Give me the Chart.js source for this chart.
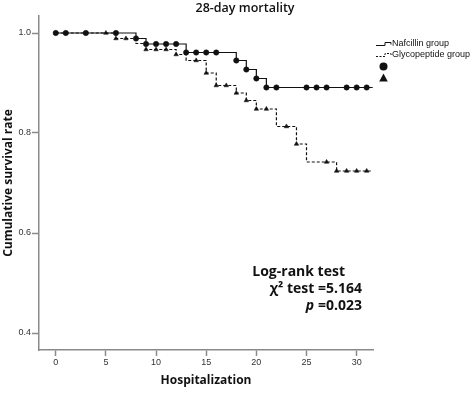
<!DOCTYPE html>
<html>
<head>
<meta charset="utf-8">
<script src="https://cdn.jsdelivr.net/npm/chart.js@4.4.1/dist/chart.umd.min.js"></script>
<style>
  html, body { margin: 0; padding: 0; background: #fff; }
  #wrap { width: 472px; height: 419px; }
</style>
</head>
<body>
<div id="wrap"><canvas id="c" width="472" height="419"></canvas></div>
<script>
// ---- Data ----
const xTicks = [0, 5, 10, 15, 20, 25, 30];
const yTicks = [0.4, 0.6, 0.8, 1.0];

// Nafcillin group: step times and survival after each step
const nafTimes = [0, 8, 9, 13, 18, 19, 20, 21, 31.6];
const nafSurv  = [1.0, 0.989, 0.978, 0.961, 0.945, 0.927, 0.909, 0.891, 0.891];
const nafCensorDays = [0, 1, 3, 6, 8, 9, 10, 11, 12, 13, 14, 15, 16, 18, 19, 20, 21, 22, 25, 26, 27, 29, 30, 31];

// Glycopeptide group
const glyTimes = [0, 6, 8, 9, 12, 13, 15, 16, 18, 19, 20, 22, 24, 25, 28, 31.6];
const glySurv  = [1.0, 0.989, 0.979, 0.967, 0.957, 0.945, 0.920, 0.895, 0.880, 0.865, 0.848, 0.813, 0.778, 0.742, 0.724, 0.724];
const glyCensorDays = [5, 6, 7, 9, 10, 11, 12, 14, 15, 16, 17, 18, 19, 20, 21, 23, 24, 27, 28, 29, 30, 31];

const seriesNames = ['Nafcillin group', 'Glycopeptide group'];
const titleText = '28-day mortality';
const xTitle = 'Hospitalization';
const yTitle = 'Cumulative survival rate';
const statLines = ['Log-rank test', 'χ² test =5.164', '=0.023'];

// ---- helpers ----
function stepPoints(t, s) { return t.map((v, i) => ({ x: v, y: s[i] })); }
function survAt(t, s, day) {
  let v = s[0];
  for (let i = 0; i < t.length; i++) { if (t[i] <= day) v = s[i]; }
  return v;
}
function censorPoints(days, t, s) { return days.map(d => ({ x: d, y: survAt(t, s, d) })); }

const AX = '#8a8a8a';
const INK = '#111';

const extras = {
  id: 'extras',
  afterDraw(chart) {
    const ctx = chart.ctx;
    ctx.save();
    // Title
    ctx.fillStyle = INK;
    ctx.font = '600 12.5px "Open Sans", "Liberation Sans", Arial, sans-serif';
    ctx.textAlign = 'center';
    ctx.textBaseline = 'middle';
    ctx.fillText(titleText, 245, 8);

    // Legend icons
    ctx.strokeStyle = INK;
    ctx.lineWidth = 1;
    ctx.beginPath();
    ctx.moveTo(376, 45.5); ctx.lineTo(385, 45.5); ctx.lineTo(385, 42.5); ctx.lineTo(391, 42.5); ctx.lineTo(391, 44.5);
    ctx.stroke();
    ctx.setLineDash([2, 1.5]);
    ctx.beginPath();
    ctx.moveTo(376, 56.5); ctx.lineTo(385, 56.5); ctx.lineTo(385, 53.5); ctx.lineTo(391, 53.5); ctx.lineTo(391, 55.5);
    ctx.stroke();
    ctx.setLineDash([]);
    ctx.font = '9px "Liberation Sans", Arial, sans-serif';
    ctx.textAlign = 'left';
    ctx.fillText(seriesNames[0], 392, 44);
    ctx.fillText(seriesNames[1], 392, 55);
    // big marker symbols
    ctx.beginPath();
    ctx.arc(383.5, 66.5, 4, 0, Math.PI * 2);
    ctx.fill();
    ctx.beginPath();
    ctx.moveTo(383.5, 73.5); ctx.lineTo(387.8, 81.5); ctx.lineTo(379.2, 81.5); ctx.closePath();
    ctx.fill();

    // Statistics annotation
    ctx.font = 'bold 14px "Open Sans", "Noto Sans", sans-serif';
    ctx.textAlign = 'right';
    ctx.fillText(statLines[0], 345, 272);
    ctx.fillText(statLines[1], 362, 289);
    ctx.fillText(statLines[2], 362, 306);
    const w = ctx.measureText(statLines[2]).width;
    ctx.font = 'italic bold 14px "Open Sans", "Noto Sans", sans-serif';
    ctx.fillText('p', 362 - w - 4, 306);
    ctx.restore();
  }
};

const ctx = document.getElementById('c').getContext('2d');
new Chart(ctx, {
  type: 'line',
  data: {
    datasets: [
      {
        label: seriesNames[1],
        data: stepPoints(glyTimes, glySurv),
        stepped: 'before',
        borderColor: INK,
        borderWidth: 1.2,
        borderDash: [3, 2],
        pointRadius: 0,
        fill: false,
        order: 3
      },
      {
        label: seriesNames[0],
        data: stepPoints(nafTimes, nafSurv),
        stepped: 'before',
        borderColor: INK,
        borderWidth: 1.2,
        pointRadius: 0,
        fill: false,
        order: 2
      },
      {
        label: seriesNames[1] + ' censored',
        data: censorPoints(glyCensorDays, glyTimes, glySurv),
        showLine: false,
        pointStyle: 'triangle',
        pointRadius: 2.6,
        pointBackgroundColor: INK,
        pointBorderColor: INK,
        pointBorderWidth: 0.5,
        order: 1
      },
      {
        label: seriesNames[0] + ' censored',
        data: censorPoints(nafCensorDays, nafTimes, nafSurv),
        showLine: false,
        pointStyle: 'circle',
        pointRadius: 2.7,
        pointBackgroundColor: INK,
        pointBorderColor: INK,
        pointBorderWidth: 0.5,
        order: 0
      }
    ]
  },
  options: {
    responsive: false,
    animation: false,
    events: [],
    layout: { padding: { top: 16, right: 99, left: 0, bottom: 0 } },
    plugins: { legend: { display: false }, title: { display: false }, tooltip: { enabled: false } },
    scales: {
      x: {
        type: 'linear',
        min: -1.67,
        max: 31.63,
        afterFit(s) { s.height = 69; },
        afterBuildTicks(s) { s.ticks = xTicks.map(v => ({ value: v })); },
        grid: { drawOnChartArea: false, drawTicks: true, tickLength: 6, tickColor: AX, tickWidth: 1.5, color: AX },
        border: { display: true, color: AX, width: 1.5 },
        ticks: { font: { size: 9, family: '"Liberation Sans", Arial, sans-serif' }, color: '#333', padding: 1, maxRotation: 0, autoSkip: false },
        title: { display: true, text: xTitle, color: INK, font: { size: 12, weight: 'bold', family: '"Open Sans", "Noto Sans", sans-serif' }, padding: { top: 0, bottom: 31 } }
      },
      y: {
        type: 'linear',
        min: 0.366,
        max: 1.034,
        afterFit(s) { s.width = 39; },
        afterBuildTicks(s) { s.ticks = yTicks.map(v => ({ value: v })); },
        grid: { drawOnChartArea: false, drawTicks: true, tickLength: 7, tickColor: AX, tickWidth: 1.5, color: AX },
        border: { display: true, color: AX, width: 1.5 },
        ticks: { font: { size: 9, family: '"Liberation Sans", Arial, sans-serif' }, color: '#333', padding: 1, callback: v => v.toFixed(1) },
        title: { display: true, text: yTitle, color: INK, font: { size: 12, weight: 'bold', family: '"Open Sans", "Noto Sans", sans-serif' }, padding: { top: 1, bottom: 0 } }
      }
    }
  },
  plugins: [extras]
});
</script>
</body>
</html>
